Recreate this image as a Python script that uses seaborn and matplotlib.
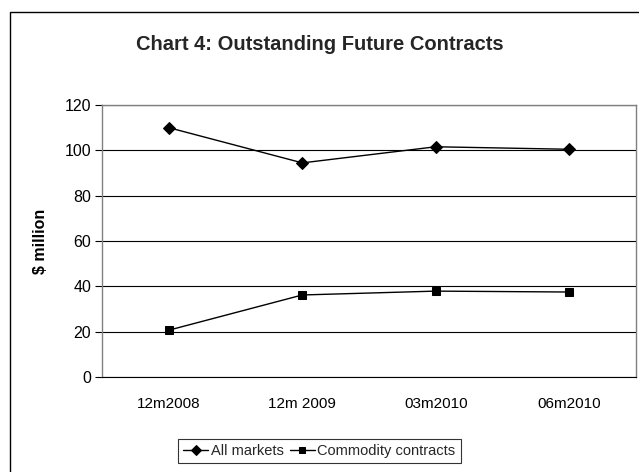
import matplotlib
matplotlib.use("Agg")
import matplotlib.pyplot as plt
from matplotlib.patches import Rectangle
from matplotlib.ticker import FixedLocator
import pandas as pd
import seaborn as sns

periods = ["12m2008", "12m 2009", "03m2010", "06m2010"]
all_markets = [109.9, 94.4, 101.5, 100.4]
commodity = [20.7, 36.2, 37.9, 37.5]
series_names = ["All markets", "Commodity contracts"]

df = pd.DataFrame({
    "period": periods * 2,
    "value": all_markets + commodity,
    "series": [series_names[0]] * 4 + [series_names[1]] * 4,
})

sns.set_theme(style="white")
plt.rcParams["font.family"] = ["Liberation Sans", "DejaVu Sans"]

fig = plt.figure(figsize=(6.39, 4.72), dpi=100)
ax = fig.add_axes([0.16, 0.201, 0.835, 0.577])

sns.lineplot(data=df, x="period", y="value", hue="series", style="series",
             markers={series_names[0]: "D", series_names[1]: "s"}, dashes=False,
             palette={series_names[0]: "black", series_names[1]: "black"},
             markersize=6, linewidth=1, markeredgecolor="black", ax=ax)

ax.set_xlim(-0.5, 3.5)
ax.set_ylim(0, 120)
ax.set_yticks(range(0, 121, 20))
ax.grid(axis="y", color="black", linewidth=0.8)
ax.set_axisbelow(True)
ax.xaxis.set_minor_locator(FixedLocator([-0.5, 0.5, 1.5, 2.5, 3.5]))
ax.tick_params(axis="x", which="major", length=0, labelsize=11, pad=14, colors="black")
ax.tick_params(axis="x", which="minor", length=5, width=0.8, color="black", direction="out")
ax.tick_params(axis="y", length=5, width=0.8, color="black", labelsize=11.5,
               labelcolor="black", left=True, pad=3)
for side in ["top", "right", "left"]:
    ax.spines[side].set_color("#808080")
    ax.spines[side].set_linewidth(1)
ax.spines["bottom"].set_color("black")
ax.spines["bottom"].set_linewidth(0.8)
ax.set_xlabel("")
ax.set_ylabel("$ million", fontsize=11.5, fontweight="bold", color="black", labelpad=12)

fig.text(0.5, 0.905, "Chart 4: Outstanding Future Contracts", ha="center", va="center",
         fontsize=14.5, fontweight="bold")

handles, labels = ax.get_legend_handles_labels()
ax.get_legend().remove()
for h in handles:
    h.set_markersize(5)
leg = fig.legend(handles, labels, loc="center", bbox_to_anchor=(0.5, 0.044), ncol=2,
                 frameon=True, fancybox=False, edgecolor="black", fontsize=10.5,
                 handlelength=1.7, handletextpad=0.2, columnspacing=0.4,
                 borderpad=0.35)
leg.get_frame().set_linewidth(0.8)

fig.patches.append(Rectangle((10 / 639, -0.05), 1.2, 1 - 12 / 472 + 0.05,
                             transform=fig.transFigure, fill=False,
                             edgecolor="black", linewidth=1))

fig.savefig("out.png", dpi=100)
